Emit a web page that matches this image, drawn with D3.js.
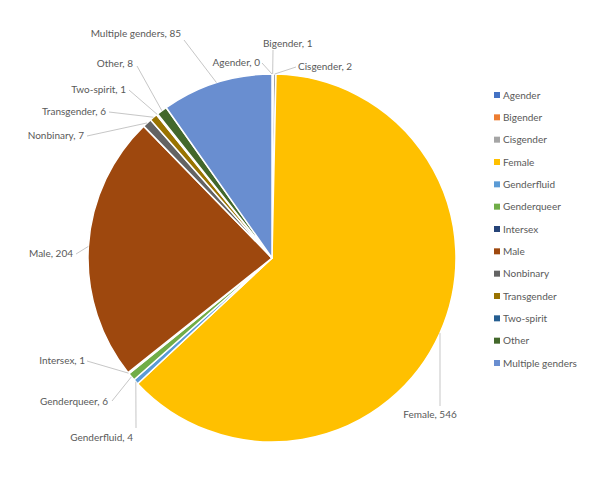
<!DOCTYPE html>
<html>
<head>
<meta charset="utf-8">
<script src="https://cdn.jsdelivr.net/npm/d3@7"></script>
<style>
  body { margin: 0; background: #fff; }
  text { font-family: Lato, "Open Sans", sans-serif; fill: #595959; }
</style>
</head>
<body>
<div id="chart"></div>
<script>
// data
var categories = ["Agender", "Bigender", "Cisgender", "Female", "Genderfluid", "Genderqueer",
  "Intersex", "Male", "Nonbinary", "Transgender", "Two-spirit", "Other", "Multiple genders"];
var counts = [0, 1, 2, 546, 4, 6, 1, 204, 7, 6, 1, 8, 85];
var colors = ["#4472C4", "#ED7D31", "#A5A5A5", "#FFC000", "#5B9BD5", "#70AD47",
  "#264478", "#9E480E", "#636363", "#997300", "#255E91", "#43682B", "#698ED0"];

// where each data label sits: text point [x, y], anchor, leader elbow
var labelPos = {
  "Agender":          { x: 260, y: 62,  anchor: "end",    lead: [262, 63] },
  "Bigender":         { x: 263, y: 43,  anchor: "start",  lead: [273, 50] },
  "Cisgender":        { x: 298, y: 66,  anchor: "start",  lead: [296, 67] },
  "Female":           { x: 430, y: 414, anchor: "middle", lead: [440, 406] },
  "Genderfluid":      { x: 133, y: 437, anchor: "end",    lead: [136, 428] },
  "Genderqueer":      { x: 108, y: 401, anchor: "end",    lead: [112, 401] },
  "Intersex":         { x: 85,  y: 360, anchor: "end",    lead: [87, 361] },
  "Male":             { x: 73,  y: 253, anchor: "end",    lead: [76, 254] },
  "Nonbinary":        { x: 84,  y: 135, anchor: "end",    lead: [87, 136] },
  "Transgender":      { x: 106, y: 111, anchor: "end",    lead: [109, 112] },
  "Two-spirit":       { x: 126, y: 89,  anchor: "end",    lead: [129, 90] },
  "Other":            { x: 133, y: 63,  anchor: "end",    lead: [137, 66] },
  "Multiple genders": { x: 181, y: 33,  anchor: "end",    lead: [184, 40] }
};

var width = 600, height = 477;
var cx = 272, cy = 258, radius = 184;

var svg = d3.select("#chart").append("svg")
    .attr("width", width)
    .attr("height", height);

var rows = categories.map(function(c, i) { return { name: c, value: counts[i], color: colors[i] }; });

var pie = d3.pie()
    .sort(null)
    .value(function(d) { return d.value; });

var arc = d3.arc().innerRadius(0).outerRadius(radius);

var arcs = pie(rows);

var g = svg.append("g")
    .attr("transform", "translate(" + cx + "," + cy + ")");

// slices
g.selectAll("path.slice")
    .data(arcs)
  .enter().append("path")
    .attr("class", "slice")
    .attr("d", arc)
    .attr("fill", function(d) { return d.data.color; })
    .attr("stroke", "#fff")
    .attr("stroke-width", 1.5)
    .attr("stroke-linejoin", "round");

// leader lines + labels
arcs.forEach(function(d) {
  var p = labelPos[d.data.name];
  var mid = (d.startAngle + d.endAngle) / 2;
  var ex = cx + radius * Math.sin(mid),
      ey = cy - radius * Math.cos(mid);
  svg.append("polyline")
      .attr("points", [[p.lead[0], p.lead[1]], [ex, ey]].map(function(q) { return q.join(","); }).join(" "))
      .attr("fill", "none")
      .attr("stroke", "#BFBFBF")
      .attr("stroke-width", 0.9);
  svg.append("text")
      .attr("x", p.x)
      .attr("y", p.y)
      .attr("dy", "0.35em")
      .attr("text-anchor", p.anchor)
      .style("font-size", "10px")
      .text(d.data.name + ", " + d.data.value);
});

// legend
var legend = svg.append("g").attr("transform", "translate(494,95)");
var ly = d3.scalePoint().domain(categories).range([0, 268]);

var item = legend.selectAll("g.item")
    .data(rows)
  .enter().append("g")
    .attr("class", "item")
    .attr("transform", function(d) { return "translate(0," + ly(d.name) + ")"; });

item.append("rect")
    .attr("x", 0)
    .attr("y", -3)
    .attr("width", 6)
    .attr("height", 6)
    .attr("fill", function(d) { return d.color; });

item.append("text")
    .attr("x", 9)
    .attr("dy", "0.35em")
    .style("font-size", "10px")
    .text(function(d) { return d.name; });
</script>
</body>
</html>
